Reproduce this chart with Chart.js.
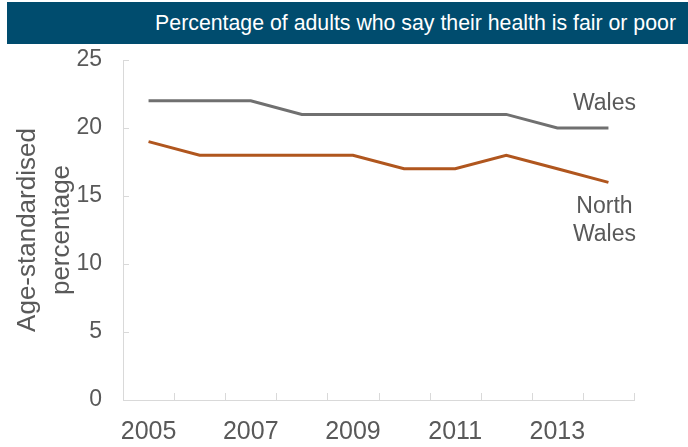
<!DOCTYPE html>
<html>
<head>
<meta charset="utf-8">
<script src="https://cdn.jsdelivr.net/npm/chart.js@4"></script>
<style>
    body { margin: 0; background: #ffffff; }
    #caixa { position: relative; width: 688px; height: 447px; }
    #faixa {
        position: absolute; left: 7px; top: 2px; width: 669px; height: 42px;
        padding-right: 12px; background: #004c6e; color: #ffffff;
        font: 21.3px "Liberation Sans", Arial, sans-serif; line-height: 42px; text-align: right;
        z-index: 2;
    }
    canvas { position: absolute; left: 0; top: 0; }
</style>
</head>
<body>
<div id="caixa">
    <div id="faixa">Percentage of adults who say their health is fair or poor</div>
    <canvas id="saudeChart" width="688" height="447"></canvas>
</div>
<script>
// Dados do gráfico
const anos = ['2005', '2006', '2007', '2008', '2009', '2010', '2011', '2012', '2013', '2014'];
const gales = [22, 22, 22, 21, 21, 21, 21, 21, 20, 20];
const galesNorte = [19, 18, 18, 18, 18, 17, 17, 18, 17, 16];
const nomesSeries = [['Wales'], ['North', 'Wales']];

const corTexto = '#595959';
const corEixo = '#d9d9d9';

// Marcas curtas dentro da área do gráfico, como no original
const marcasInternas = {
    id: 'marcasInternas',
    afterDatasetsDraw(chart) {
        const { ctx, scales: { x, y } } = chart;
        ctx.save();
        ctx.strokeStyle = corEixo;
        ctx.lineWidth = 1;
        const passo = x.getPixelForValue(1) - x.getPixelForValue(0);
        for (let i = 0; i <= anos.length; i++) {
            const px = Math.round(x.getPixelForValue(i) - passo / 2) + 0.5;
            ctx.beginPath();
            ctx.moveTo(px, y.bottom);
            ctx.lineTo(px, y.bottom - 7);
            ctx.stroke();
        }
        y.ticks.forEach(t => {
            const py = Math.round(y.getPixelForValue(t.value)) + 0.5;
            ctx.beginPath();
            ctx.moveTo(x.left, py);
            ctx.lineTo(x.left + 6, py);
            ctx.stroke();
        });
        ctx.restore();
    }
};

// Nomes das séries junto ao último ponto
const nomesLinhas = {
    id: 'nomesLinhas',
    afterDatasetsDraw(chart) {
        const { ctx } = chart;
        ctx.save();
        ctx.font = '23px "Liberation Sans", Arial, sans-serif';
        ctx.fillStyle = corTexto;
        ctx.textAlign = 'center';
        ctx.textBaseline = 'middle';
        chart.data.datasets.forEach((ds, i) => {
            const meta = chart.getDatasetMeta(i);
            const ponto = meta.data[meta.data.length - 1];
            const linhas = nomesSeries[i];
            const desvio = i === 0 ? -24 : 24;
            linhas.forEach((txt, j) => {
                ctx.fillText(txt, ponto.x - 4, ponto.y + desvio + j * 28);
            });
        });
        ctx.restore();
    }
};

new Chart(document.getElementById('saudeChart'), {
    type: 'line',
    data: {
        labels: anos,
        datasets: [{
            label: 'Wales',
            data: gales,
            borderColor: '#707070',
            borderWidth: 3,
            pointRadius: 0,
            tension: 0,
            clip: false
        }, {
            label: 'North Wales',
            data: galesNorte,
            borderColor: '#b0561e',
            borderWidth: 3,
            pointRadius: 0,
            tension: 0,
            clip: false
        }]
    },
    options: {
        responsive: false,
        animation: false,
        layout: { padding: { top: 60, right: 54, bottom: 0, left: 0 } },
        plugins: {
            legend: { display: false },
            tooltip: { enabled: false }
        },
        scales: {
            x: {
                offset: true,
                grid: { display: false, offset: true, drawTicks: false, tickLength: 0 },
                border: { display: true, color: corEixo, width: 1 },
                ticks: {
                    autoSkip: false,
                    maxRotation: 0,
                    padding: 17,
                    color: corTexto,
                    font: { family: '"Liberation Sans", Arial, sans-serif', size: 25 },
                    callback: function (valor, indice) {
                        return indice % 2 === 0 ? anos[indice] : '';
                    }
                },
                afterFit: function (escala) { escala.height = 47; }
            },
            y: {
                min: 0,
                max: 25,
                grid: { display: false, drawTicks: false, tickLength: 0 },
                border: { display: true, color: corEixo, width: 1 },
                ticks: {
                    stepSize: 5,
                    padding: 21,
                    color: corTexto,
                    font: { family: '"Liberation Sans", Arial, sans-serif', size: 23 }
                },
                title: {
                    display: true,
                    text: ['Age-standardised', 'percentage'],
                    color: corTexto,
                    font: { family: '"Liberation Sans", Arial, sans-serif', size: 26, lineHeight: 1.3 },
                    padding: { top: 11, bottom: 0 }
                },
                afterFit: function (escala) { escala.width = 123; }
            }
        }
    },
    plugins: [marcasInternas, nomesLinhas]
});
</script>
</body>
</html>
